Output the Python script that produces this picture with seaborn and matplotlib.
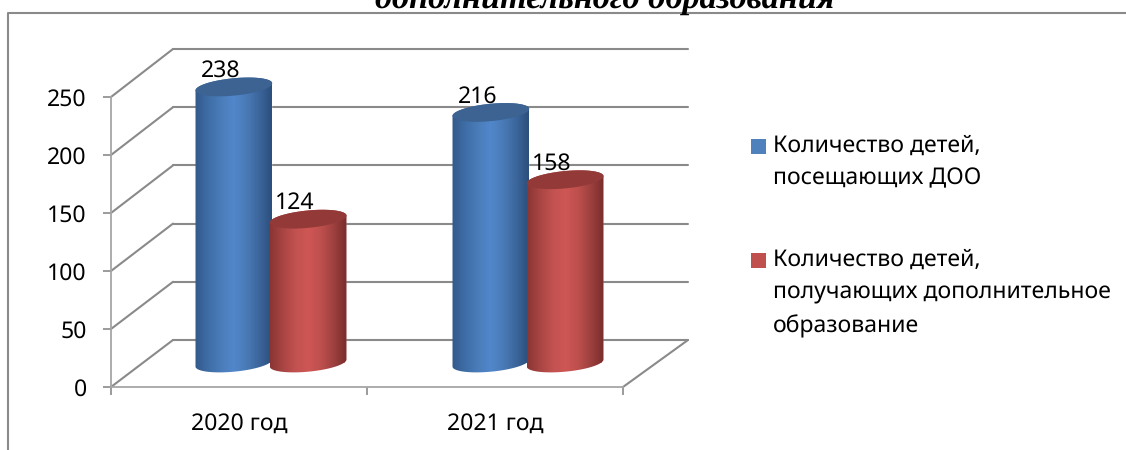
import numpy as np
import pandas as pd
import seaborn as sns
import matplotlib
matplotlib.use("Agg")
import matplotlib.pyplot as plt
from matplotlib.colors import LinearSegmentedColormap
from matplotlib.lines import Line2D
from matplotlib.patches import ConnectionPatch, Polygon

years = ["2020 год", "2021 год"]
series_names = ["Количество детей,\nпосещающих ДОО",
                "Количество детей,\nполучающих дополнительное\nобразование"]
attending = [238, 216]
additional = [124, 158]
y_ticks = [0, 50, 100, 150, 200, 250]
title_text = "дополнительного образования"

W, H = 1126, 450
GRAY = "#8a8a8a"
sns.set_style("white")
plt.rcParams["font.family"] = ["Noto Sans", "DejaVu Sans"]
plt.rcParams["text.hinting"] = "no_hinting"
FS = 16.6

fig = plt.figure(figsize=(W / 100, H / 100), dpi=100, facecolor="white")
SY = 290 / 250


def add_axes(x0, x1, ytop, ybot, z):
    a = fig.add_axes([x0 / W, 1 - ybot / H, (x1 - x0) / W, (ybot - ytop) / H], zorder=z)
    a.patch.set_visible(False)
    a.set_xlim(-0.5, 1.5)
    a.set_ylim(0, 250)
    return a


back = add_axes(173, 688, 49, 340, 1)
front = add_axes(111, 623, 97, 387, 2)
bars = add_axes(142.5, 656.5, 73, 363 + 30 * SY, 5)

# back wall
back.set_xticks([])
back.set_yticks(y_ticks)
back.tick_params(left=False, labelleft=False)
back.yaxis.grid(True, color=GRAY, lw=1.5)
back.set_axisbelow(True)
for s in back.spines.values():
    s.set_visible(False)
for t in back.yaxis.get_gridlines():
    t.set_clip_on(False)

# front axes
sns.despine(ax=front, top=True, right=True)
for side in ("left", "bottom"):
    front.spines[side].set_visible(True)
    front.spines[side].set_color("#a6a6a6")
    front.spines[side].set_linewidth(1.3)
front.set_yticks(y_ticks)
front.set_xticks([0, 1])
front.set_xticklabels(years)
front.set_xticks([-0.5, 0.5, 1.5], minor=True)
front.tick_params(axis="x", which="major", length=0, pad=18, labelsize=FS, colors="black")
front.tick_params(axis="x", which="minor", length=5.5, width=1.2, color=GRAY, bottom=True)
front.tick_params(axis="y", length=5.5, width=1.2, color=GRAY, left=True, pad=12,
                  labelsize=FS, labelcolor="black")

# depth lines
for v in y_ticks:
    con = ConnectionPatch((-0.5, v), (-0.5, v), coordsA=front.transData, coordsB=back.transData,
                          color=GRAY, lw=1.5, zorder=1.5)
    fig.add_artist(con)
con = ConnectionPatch((1.5, 0), (1.5, 0), coordsA=front.transData, coordsB=back.transData,
                      color=GRAY, lw=1.5, zorder=1.5)
fig.add_artist(con)

# cylinders
df = pd.DataFrame({
    "year": years * 2,
    "value": attending + additional,
    "series": [series_names[0]] * 2 + [series_names[1]] * 2,
})
base_colors = ["#4f81bd", "#c0504d"]
sns.barplot(data=df, x="year", y="value", hue="series", palette=base_colors, ax=bars,
            width=0.578, gap=0, legend=False, zorder=2, saturation=1, dodge=True)
YMIN = -30
bars.axis("off")

SX = (656.5 - 142.5) / 2
A, B, TILT = 38.5, 8.8, np.radians(5)
gradients = [
    ["#33598a", "#3e6da6", "#4a7cb9", "#5187cb", "#4a7bb7", "#3c669c", "#2c4f7c"],
    ["#8a3533", "#a84543", "#c25250", "#cf5755", "#bd4f4d", "#9c403e", "#792d2b"],
]
top_colors = ["#3c6391", "#933a38"]


def ellipse_xy(cx, v, t):
    dx = A * np.cos(t) * np.cos(TILT) + B * np.sin(t) * np.sin(TILT)
    dy = A * np.cos(t) * np.sin(TILT) + B * np.sin(t) * np.cos(TILT)
    return cx + dx / SX, v + dy / SY


grad = np.linspace(0, 1, 256)[None, :]
for i, cont in enumerate(bars.containers):
    cmap = LinearSegmentedColormap.from_list("c", gradients[i])
    z = 3 + i
    for rect in cont:
        cx = rect.get_x() + rect.get_width() / 2
        v = rect.get_height()
        t_low = np.linspace(np.pi, 2 * np.pi, 60)
        t_up = np.linspace(0, np.pi, 60)
        xl, yl = ellipse_xy(cx, 0, t_low)
        xu, yu = ellipse_xy(cx, v, t_up)
        body = Polygon(np.column_stack([np.r_[xl, xu], np.r_[yl, yu]]), closed=True,
                       transform=bars.transData, facecolor="none", edgecolor="none")
        bars.add_patch(body)
        im = bars.imshow(grad, cmap=cmap, aspect="auto", zorder=z,
                         extent=(cx - A / SX, cx + A / SX, -15, v + 15), interpolation="bilinear")
        im.set_clip_path(body)
        t = np.linspace(0, 2 * np.pi, 120)
        xe, ye = ellipse_xy(cx, v, t)
        bars.add_patch(Polygon(np.column_stack([xe, ye]), closed=True, facecolor=top_colors[i],
                               edgecolor="none", zorder=z + 0.1, clip_on=False))
        bars.annotate(f"{v:.0f}", (cx, v), xytext=(-13 * 0.72, 16 * 0.72),
                      textcoords="offset points", ha="center", va="center",
                      fontsize=FS, color="black", zorder=10, annotation_clip=False)
bars.set_xlim(-0.5, 1.5)
bars.set_ylim(YMIN, 250)

# legend
handles = [plt.Rectangle((0, 0), 1, 1, facecolor=c, edgecolor="none") for c in base_colors]
leg = fig.legend(handles, series_names, loc="upper left", bbox_to_anchor=(751 / W, 1 - 134 / H),
                 frameon=False, fontsize=FS, borderpad=0, borderaxespad=0, handlelength=0.65,
                 handleheight=0.65, handletextpad=0.3, labelspacing=2.5, labelcolor="black")
for txt, h, n in zip(leg.get_texts(), leg.legend_handles, (2, 3)):
    txt.set_linespacing(1.58)
    h.set_y(h.get_y() + (n - 1) * 33 / 2 * 0.72)

# frame and clipped heading
fig.add_artist(Line2D([8 / W, 8 / W, 1], [0, 1 - 13 / H, 1 - 13 / H], color=GRAY, lw=1.5, zorder=0.5))
fig.text(605 / W, 1 - 8 / H, title_text, family="Liberation Serif", style="italic", weight="bold",
         fontsize=24.7, ha="center", va="baseline", color="black")

fig.savefig("out.png", dpi=100)
